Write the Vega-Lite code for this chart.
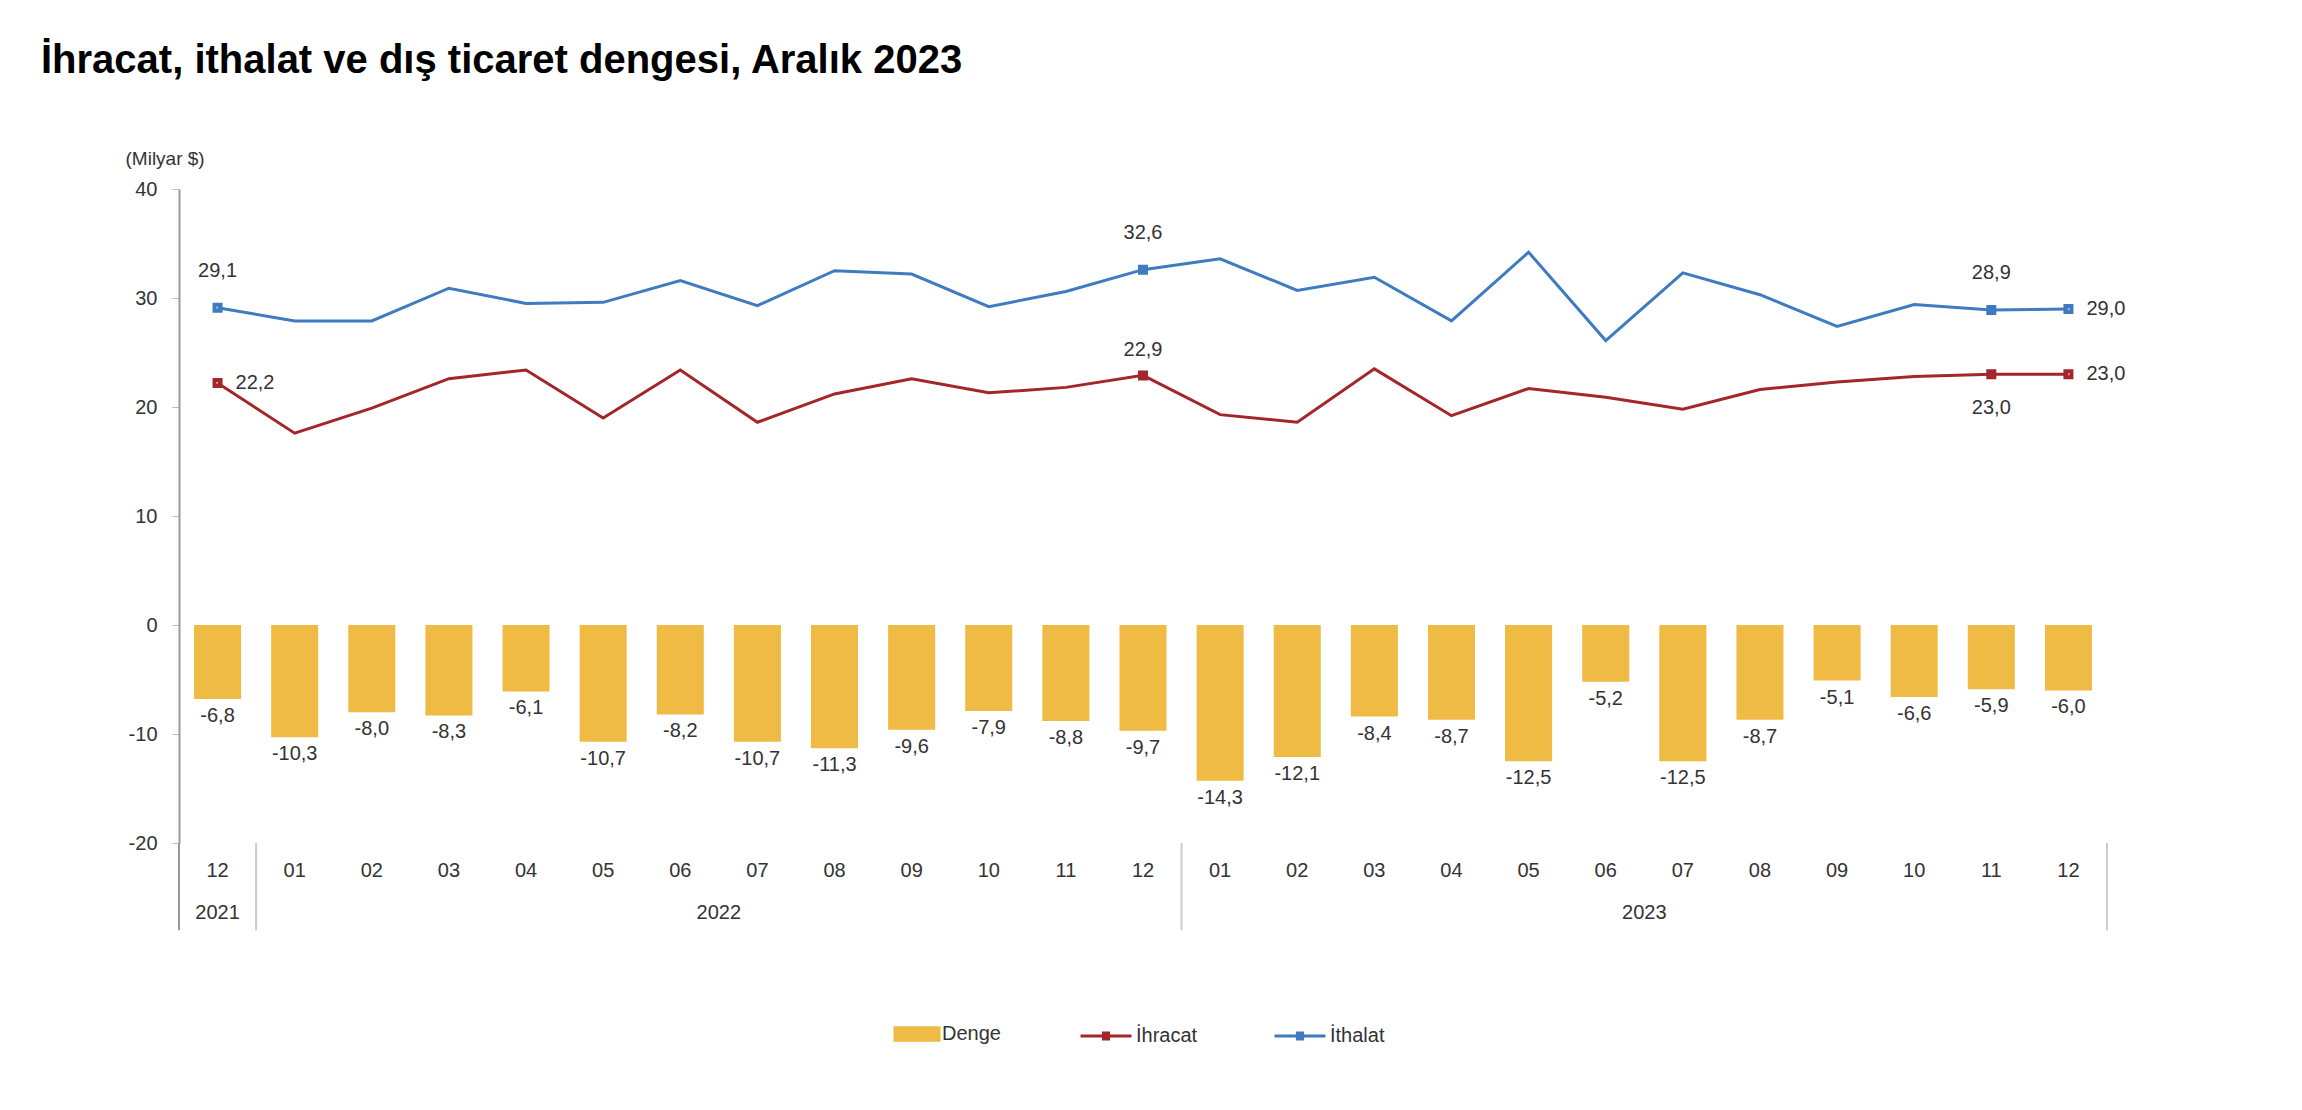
{
  "$schema": "https://vega.github.io/schema/vega-lite/v6.json",
  "width": 1928,
  "height": 654,
  "autosize": {"type": "none"},
  "padding": {"left": 179, "top": 189, "right": 195, "bottom": 267},
  "background": "white",
  "title": {
    "text": "İhracat, ithalat ve dış ticaret dengesi, Aralık 2023",
    "anchor": "start",
    "frame": "group",
    "dx": -138,
    "offset": 36,
    "baseline": "alphabetic",
    "font": "Liberation Sans Narrow, Liberation Sans",
    "fontSize": 40,
    "fontWeight": "bold",
    "color": "#000000"
  },
  "config": {
    "view": {"stroke": null},
    "font": "Liberation Sans",
    "locale": {"number": {"decimal": ",", "thousands": ".", "grouping": [3], "currency": ["", ""], "minus": "-"}}
  },
  "data": {
    "values": [
      {"k": "2021-12", "Denge": -6.8, "İhracat": 22.2, "İthalat": 29.1},
      {"k": "2022-01", "Denge": -10.3, "İhracat": 17.6, "İthalat": 27.9},
      {"k": "2022-02", "Denge": -8.0, "İhracat": 19.9, "İthalat": 27.9},
      {"k": "2022-03", "Denge": -8.3, "İhracat": 22.6, "İthalat": 30.9},
      {"k": "2022-04", "Denge": -6.1, "İhracat": 23.4, "İthalat": 29.5},
      {"k": "2022-05", "Denge": -10.7, "İhracat": 19.0, "İthalat": 29.6},
      {"k": "2022-06", "Denge": -8.2, "İhracat": 23.4, "İthalat": 31.6},
      {"k": "2022-07", "Denge": -10.7, "İhracat": 18.6, "İthalat": 29.3},
      {"k": "2022-08", "Denge": -11.3, "İhracat": 21.2, "İthalat": 32.5},
      {"k": "2022-09", "Denge": -9.6, "İhracat": 22.6, "İthalat": 32.2},
      {"k": "2022-10", "Denge": -7.9, "İhracat": 21.3, "İthalat": 29.2},
      {"k": "2022-11", "Denge": -8.8, "İhracat": 21.8, "İthalat": 30.6},
      {"k": "2022-12", "Denge": -9.7, "İhracat": 22.9, "İthalat": 32.6},
      {"k": "2023-01", "Denge": -14.3, "İhracat": 19.3, "İthalat": 33.6},
      {"k": "2023-02", "Denge": -12.1, "İhracat": 18.6, "İthalat": 30.7},
      {"k": "2023-03", "Denge": -8.4, "İhracat": 23.5, "İthalat": 31.9},
      {"k": "2023-04", "Denge": -8.7, "İhracat": 19.2, "İthalat": 27.9},
      {"k": "2023-05", "Denge": -12.5, "İhracat": 21.7, "İthalat": 34.2},
      {"k": "2023-06", "Denge": -5.2, "İhracat": 20.9, "İthalat": 26.1},
      {"k": "2023-07", "Denge": -12.5, "İhracat": 19.8, "İthalat": 32.3},
      {"k": "2023-08", "Denge": -8.7, "İhracat": 21.6, "İthalat": 30.3},
      {"k": "2023-09", "Denge": -5.1, "İhracat": 22.3, "İthalat": 27.4},
      {"k": "2023-10", "Denge": -6.6, "İhracat": 22.8, "İthalat": 29.4},
      {"k": "2023-11", "Denge": -5.9, "İhracat": 23.0, "İthalat": 28.9},
      {"k": "2023-12", "Denge": -6.0, "İhracat": 23.0, "İthalat": 29.0}
    ]
  },
  "encoding": {
    "x": {
      "field": "k",
      "type": "ordinal",
      "scale": {"paddingInner": 0, "paddingOuter": 0},
      "axis": {
        "title": null,
        "labelExpr": "slice(datum.value, 5)",
        "domain": false,
        "ticks": false,
        "labelAngle": 0,
        "labelFontSize": 20,
        "labelColor": "#333333",
        "labelPadding": 17
      }
    }
  },
  "layer": [
    {
      "transform": [{"fold": ["Denge"], "as": ["seri", "deger"]}],
      "mark": {"type": "bar", "width": {"band": 0.61}},
      "encoding": {
        "y": {
          "field": "deger",
          "type": "quantitative",
          "scale": {"domain": [-20, 40], "nice": false, "zero": false},
          "axis": {
            "values": [-20, -10, 0, 10, 20, 30, 40],
            "format": "d",
            "title": "(Milyar $)",
            "titleAngle": 0,
            "titleAlign": "left",
            "titleBaseline": "middle",
            "titleX": -54,
            "titleY": -31,
            "titleFontSize": 19,
            "titleFontWeight": "normal",
            "titleColor": "#333333",
            "grid": false,
            "domainColor": "#999999",
            "domainWidth": 2,
            "tickColor": "#bbbbbb",
            "tickSize": 7,
            "labelFontSize": 20,
            "labelColor": "#333333",
            "labelPadding": 15
          }
        },
        "fill": {
          "field": "seri",
          "type": "nominal",
          "scale": {"domain": ["Denge"], "range": ["#F0BB45"]},
          "legend": {
            "orient": "none",
            "legendX": 722,
            "legendY": 829,
            "title": null,
            "padding": 0,
            "symbolType": "M-1.5,-0.5H1.5V0.5H-1.5Z",
            "symbolSize": 985,
            "symbolStrokeWidth": 0,
            "symbolOpacity": 1,
            "labelFontSize": 20,
            "labelColor": "#333333",
            "labelOffset": 9
          }
        }
      }
    },
    {
      "mark": {"type": "rule", "color": "#999999", "strokeWidth": 2},
      "encoding": {"y": {"datum": 0, "type": "quantitative"}}
    },
    {
      "transform": [{"filter": "datum.k === '2021-12'"}],
      "mark": {"type": "rule", "color": "#999999", "strokeWidth": 2},
      "encoding": {
        "x": {"field": "k", "type": "ordinal", "bandPosition": 0},
        "y": {"datum": -20, "type": "quantitative"},
        "y2": {"datum": -28}
      }
    },
    {
      "transform": [{"filter": {"field": "k", "oneOf": ["2021-12", "2022-12", "2023-12"]}}],
      "mark": {"type": "rule", "color": "#cccccc", "strokeWidth": 2},
      "encoding": {
        "x": {"field": "k", "type": "ordinal", "bandPosition": 1},
        "y": {"datum": -20, "type": "quantitative"},
        "y2": {"datum": -28}
      }
    },
    {
      "transform": [{"fold": ["İhracat", "İthalat"], "as": ["seri", "deger"]}],
      "mark": {"type": "line", "strokeWidth": 3},
      "encoding": {
        "y": {"field": "deger", "type": "quantitative"},
        "stroke": {
          "field": "seri",
          "type": "nominal",
          "scale": {"domain": ["İhracat", "İthalat"], "range": ["#A3262A", "#3E7BC1"]},
          "legend": {
            "orient": "none",
            "direction": "horizontal",
            "legendX": 900,
            "legendY": 820,
            "title": null,
            "padding": 0,
            "symbolType": "M-1,0H1M-0.16,-0.12H0.16M-0.16,0H0.16M-0.16,0.12H0.16",
            "symbolSize": 2600,
            "symbolStrokeWidth": 3,
            "symbolOpacity": 1,
            "symbolFillColor": "transparent",
            "labelFontSize": 20,
            "labelColor": "#333333",
            "labelOffset": 3,
            "columnPadding": 70
          }
        }
      }
    },
    {
      "transform": [
        {"fold": ["İhracat", "İthalat"], "as": ["seri", "deger"]},
        {"filter": {"field": "k", "oneOf": ["2021-12", "2022-12", "2023-11", "2023-12"]}}
      ],
      "mark": {"type": "point", "shape": "square", "size": 36, "strokeWidth": 4, "filled": false, "opacity": 1},
      "encoding": {
        "y": {"field": "deger", "type": "quantitative"},
        "stroke": {"field": "seri", "type": "nominal"}
      }
    },
    {
      "transform": [{"fold": ["Denge"], "as": ["seri", "deger"]}],
      "mark": {"type": "text", "baseline": "top", "dy": 7, "fontSize": 20, "color": "#333333"},
      "encoding": {
        "y": {"field": "deger", "type": "quantitative"},
        "text": {"field": "deger", "type": "quantitative", "format": ".1f"}
      }
    },
    {
      "transform": [
        {"fold": ["İthalat"], "as": ["seri", "deger"]},
        {"filter": {"field": "k", "oneOf": ["2021-12", "2022-12", "2023-11"]}}
      ],
      "mark": {"type": "text", "baseline": "bottom", "dy": -27, "fontSize": 20, "color": "#333333"},
      "encoding": {
        "y": {"field": "deger", "type": "quantitative"},
        "text": {"field": "deger", "type": "quantitative", "format": ".1f"}
      }
    },
    {
      "transform": [
        {"fold": ["İhracat"], "as": ["seri", "deger"]},
        {"filter": {"field": "k", "oneOf": ["2022-12"]}}
      ],
      "mark": {"type": "text", "baseline": "bottom", "dy": -15, "fontSize": 20, "color": "#333333"},
      "encoding": {
        "y": {"field": "deger", "type": "quantitative"},
        "text": {"field": "deger", "type": "quantitative", "format": ".1f"}
      }
    },
    {
      "transform": [
        {"fold": ["İhracat"], "as": ["seri", "deger"]},
        {"filter": {"field": "k", "oneOf": ["2023-11"]}}
      ],
      "mark": {"type": "text", "baseline": "top", "dy": 24, "fontSize": 20, "color": "#333333"},
      "encoding": {
        "y": {"field": "deger", "type": "quantitative"},
        "text": {"field": "deger", "type": "quantitative", "format": ".1f"}
      }
    },
    {
      "transform": [
        {"fold": ["İhracat", "İthalat"], "as": ["seri", "deger"]},
        {"filter": "(datum.seri === 'İhracat' && (datum.k === '2021-12' || datum.k === '2023-12')) || (datum.seri === 'İthalat' && datum.k === '2023-12')"}
      ],
      "mark": {"type": "text", "align": "left", "baseline": "middle", "dx": 18, "fontSize": 20, "color": "#333333"},
      "encoding": {
        "y": {"field": "deger", "type": "quantitative"},
        "text": {"field": "deger", "type": "quantitative", "format": ".1f"}
      }
    },
    {
      "transform": [{"filter": "datum.k === '2021-12'"}],
      "mark": {"type": "text", "baseline": "middle", "dy": 70, "fontSize": 20, "color": "#333333"},
      "encoding": {
        "x": {"field": "k", "type": "ordinal", "bandPosition": 0.5},
        "y": {"datum": -20, "type": "quantitative"},
        "text": {"value": "2021"}
      }
    },
    {
      "transform": [{"filter": "datum.k === '2022-06'"}],
      "mark": {"type": "text", "baseline": "middle", "dy": 70, "fontSize": 20, "color": "#333333"},
      "encoding": {
        "x": {"field": "k", "type": "ordinal", "bandPosition": 1},
        "y": {"datum": -20, "type": "quantitative"},
        "text": {"value": "2022"}
      }
    },
    {
      "transform": [{"filter": "datum.k === '2023-06'"}],
      "mark": {"type": "text", "baseline": "middle", "dy": 70, "fontSize": 20, "color": "#333333"},
      "encoding": {
        "x": {"field": "k", "type": "ordinal", "bandPosition": 1},
        "y": {"datum": -20, "type": "quantitative"},
        "text": {"value": "2023"}
      }
    }
  ]
}
